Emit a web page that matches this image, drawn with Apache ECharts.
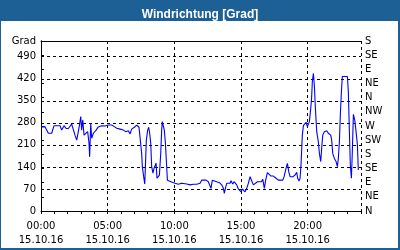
<!DOCTYPE html>
<html>
<head>
<meta charset="utf-8">
<script src="https://cdn.jsdelivr.net/npm/echarts@6/dist/echarts.min.js"></script>
<style>
html,body{margin:0;padding:0;background:#fff;}
#c{width:400px;height:250px;}
</style>
</head>
<body>
<div id="c"></div>
<script>
const titleText = 'Windrichtung [Grad]';
const dateText = '15.10.16';
const unitLabel = 'Grad';
const dirLabels = ['N','NE','E','SE','S','SW','W','NW','N','NE','E','SE','S'];

// time in hours of 15.10.16
const hours = [
 0.0,0.13,0.3,0.55,0.8,0.98,1.43,1.55,1.73,1.88,2.05,2.3,2.43,2.55,2.68,2.8,2.88,2.98,3.05,3.13,3.23,3.38,3.5,3.6,3.65,3.73,3.8,3.93,4.13,4.3,4.55,4.8,
 5.05,5.3,5.5,5.68,5.8,5.93,6.05,6.18,6.35,6.55,6.68,6.8,7.0,7.18,7.35,7.45,7.55,7.6,7.7,7.78,7.83,7.9,8.0,8.08,8.15,8.23,8.3,8.4,8.48,8.55,8.63,8.7,8.8,8.88,8.98,9.05,9.1,9.18,9.25,9.33,9.4,9.48,9.6,9.75,
 9.88,10.05,10.3,10.55,10.93,11.18,11.23,11.43,11.68,11.93,12.05,12.18,12.38,12.55,12.68,12.75,12.85,12.98,13.18,13.38,13.55,13.68,13.75,13.83,13.93,14.05,14.18,14.25,14.38,14.48,14.55,14.68,14.8,14.93,15.0,15.1,15.18,15.3,15.43,15.55,15.68,15.75,15.83,15.93,16.05,16.23,16.38,16.53,16.63,16.75,16.85,16.98,17.1,17.25,17.43,17.63,17.8,
 17.93,18.13,18.23,18.38,18.48,18.58,18.68,18.88,19.05,19.18,19.25,19.35,19.43,19.5,19.55,19.6,19.68,19.8,19.88,19.98,20.05,20.13,20.23,20.3,20.35,20.43,20.5,20.58,20.68,20.8,20.88,20.98,21.05,21.13,21.25,21.43,21.55,21.63,21.73,21.8,21.88,22.0,22.13,22.23,22.3,22.38,22.45,22.53,22.6,22.98,23.05,23.13,23.2,23.28,23.35,23.43,23.53,23.63,23.73,23.8
];
// wind direction in degrees
const values = [
 267,271,268,247,247,271,271,257,271,262,262,276,271,241,225,220,271,300,257,289,241,247,252,216,172,278,231,247,257,267,271,270,
 273,273,268,263,268,260,266,257,252,255,245,260,266,273,266,264,183,141,109,86,141,225,257,266,247,215,141,120,136,130,152,104,98,114,183,257,284,278,257,215,162,98,96,93,
 93,88,85,88,86,83,77,85,85,88,98,101,98,93,88,72,98,101,93,90,83,72,56,72,88,83,88,96,86,93,88,83,70,67,61,70,64,61,72,88,109,114,93,83,88,93,98,93,101,72,98,122,120,111,111,104,98,
 98,98,109,136,151,125,109,109,114,123,104,95,104,146,194,241,271,273,282,268,273,284,326,363,411,437,400,326,252,220,183,157,199,241,252,255,247,252,241,225,183,167,157,141,167,220,305,379,427,427,379,252,146,104,188,307,289,252,210,130
];

const FONT = 'DejaVu Sans';
const blue = '#1d6096';
const dash = [3,3];

function pad(n){ return (n < 10 ? '0' : '') + n; }

const chart = echarts.init(document.getElementById('c'), null, {renderer:'canvas'});
chart.setOption({
  animation: false,
  backgroundColor: '#fff',
  title: {
    text: titleText,
    left: 'center',
    top: 3,
    textStyle: {color:'#fff', fontFamily:'Liberation Sans', fontWeight:'bold', fontSize:12, lineHeight:14}
  },
  graphic: [
    {type:'rect', z:-10, shape:{x:0,y:0,width:400,height:21}, style:{fill:blue}},
    {type:'rect', z:-10, shape:{x:0,y:0,width:1,height:250}, style:{fill:blue}},
    {type:'rect', z:-10, shape:{x:398,y:0,width:2,height:250}, style:{fill:blue}},
    {type:'rect', z:-10, shape:{x:0,y:248,width:400,height:2}, style:{fill:blue}}
  ],
  grid: {left:41, right:39, top:41, bottom:39, containLabel:false, outerBoundsMode:'none'},
  xAxis: [
    {
      type:'value', min:0, max:24, interval:5, position:'bottom',
      axisLine:{show:true, lineStyle:{color:'#000', width:1}},
      axisTick:{show:false},
      axisLabel:{
        color:'#000', fontFamily:FONT, fontSize:10, lineHeight:14, margin:8,
        formatter: v => (v % 5 === 0 && v < 24) ? pad(v) + ':00\n' + dateText : ''
      },
      splitLine:{show:true, lineStyle:{color:'#000', type:dash, width:1}}
    },
    {
      type:'value', min:0, max:24, interval:1, position:'bottom',
      axisLine:{show:false},
      axisTick:{show:true, inside:false, length:3, lineStyle:{color:'#000'}},
      axisLabel:{show:false},
      splitLine:{show:false}
    },
    {
      type:'value', min:0, max:24, position:'top',
      axisLine:{show:true, lineStyle:{color:'#000', width:1}},
      axisTick:{show:false}, axisLabel:{show:false}, splitLine:{show:false}
    }
  ],
  yAxis: [
    {
      type:'value', min:0, max:540, interval:70, position:'left',
      axisLine:{show:true, lineStyle:{color:'#000', width:1}},
      axisTick:{show:false},
      axisLabel:{color:'#000', fontFamily:FONT, fontSize:10, margin:5,
        formatter: v => v === 540 ? unitLabel : String(v)},
      splitLine:{show:true, lineStyle:{color:'#000', type:dash, width:1}}
    },
    {
      type:'value', min:0, max:540, interval:45, position:'right',
      axisLine:{show:true, lineStyle:{color:'#000', width:1}},
      axisTick:{show:true, inside:false, length:3, lineStyle:{color:'#000'}},
      axisLabel:{color:'#000', fontFamily:FONT, fontSize:10, margin:4,
        formatter: v => dirLabels[Math.round(v/45)] || ''},
      splitLine:{show:false}
    }
  ],
  series: [{
    type:'line',
    xAxisIndex:0, yAxisIndex:0,
    data: hours.map((h,i) => [h, values[i]]),
    showSymbol:false,
    symbol:'none',
    lineStyle:{color:'#0000ff', width:1.1},
    z:5
  }]
});
</script>
</body>
</html>
